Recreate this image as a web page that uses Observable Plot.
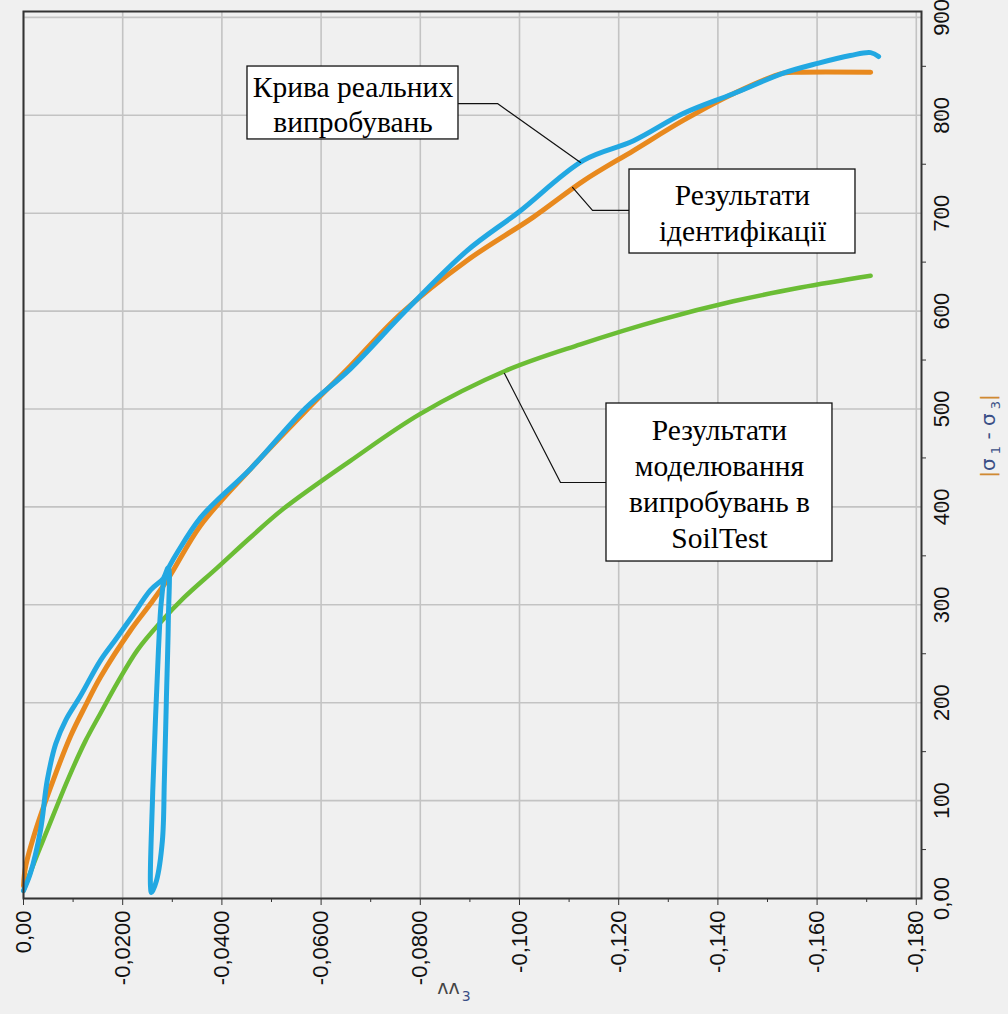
<!DOCTYPE html>
<html><head><meta charset="utf-8">
<script src="https://cdn.jsdelivr.net/npm/d3@7"></script>
<script src="https://cdn.jsdelivr.net/npm/@observablehq/plot@0.6"></script>
<style>
html,body{margin:0;padding:0;background:#f0f0f0;}
#chart{width:1008px;height:1014px;}
</style></head><body><div id="chart"></div>
<script>
// Real test curve (blue)
const realStrain = [0, -0.0014, -0.0034, -0.0048, -0.0065, -0.0085, -0.0115, -0.0155, -0.0185, -0.0216, -0.0256, -0.0282, -0.0292,
  -0.0292, -0.0288, -0.0284, -0.0280, -0.0268, -0.0258, -0.0256, -0.0260, -0.0266, -0.0272, -0.0278, -0.0286,
  -0.0317, -0.0357, -0.0391, -0.0458, -0.0569, -0.0659, -0.0770, -0.0895, -0.0998, -0.1129, -0.1230, -0.1331, -0.1431, -0.1532, -0.1601, -0.1667, -0.1708, -0.1724];
const realStress = [8, 26, 69, 121, 158, 182, 207, 243, 264, 286, 315, 327, 338,
  284, 202, 121, 59, 18, 6, 13, 100, 182, 253, 304, 330,
  359, 389, 407, 439, 501, 541, 600, 662, 701, 754, 774, 802, 822, 843, 853, 861, 864, 860];
// Identification results (orange)
const identStrain = [0, -0.0004, -0.0024, -0.0060, -0.0095, -0.0125, -0.0155, -0.0216, -0.0256, -0.0292, -0.0357, -0.0458, -0.0569, -0.0659, -0.0760, -0.0895, -0.1028, -0.1129, -0.1230, -0.1331, -0.1431, -0.1532, -0.1567, -0.1708];
const identStress = [13, 32, 69, 121, 166, 197, 226, 274, 301, 327, 381, 439, 498, 544, 597, 652, 696, 733, 764, 795, 822, 843, 844, 844];
// SoilTest modelling results (green)
const modelStrain = [0, -0.0024, -0.0048, -0.0089, -0.0125, -0.0155, -0.0190, -0.0230, -0.0276, -0.0323, -0.0391, -0.0458, -0.0524, -0.0659, -0.0800, -0.0972, -0.1123, -0.1284, -0.1431, -0.1567, -0.1708];
const modelStress = [8, 40, 70, 121, 161, 189, 221, 254, 282, 307, 338, 369, 398, 447, 495, 539, 566, 591, 610, 624, 636];

const xTicks = [0, -0.02, -0.04, -0.06, -0.08, -0.10, -0.12, -0.14, -0.16, -0.18];
const xTickLabels = ["0,00", "-0,0200", "-0,0400", "-0,0600", "-0,0800", "-0,100", "-0,120", "-0,140", "-0,160", "-0,180"];
const xMinor = [-0.01, -0.03, -0.05, -0.07, -0.09, -0.11, -0.13, -0.15, -0.17];
const yTicks = [0, 100, 200, 300, 400, 500, 600, 700, 800, 900];
const yTickLabels = ["0,00", "100", "200", "300", "400", "500", "600", "700", "800", "900"];
const yMinor = [50, 150, 250, 350, 450, 550, 650, 750, 850];

// Annotations (data units)
const noteLabels = ["Крива реальних\nвипробувань", "Результати\nідентифікації", "Результати\nмоделювання\nвипробувань в\nSoilTest"];
const noteX1 = [-0.04516, -0.12218, -0.11754];
const noteX2 = [-0.08770, -0.16774, -0.16310];
const noteY1 = [775.3, 658.8, 344.2];
const noteY2 = [849.8, 744.6, 505.6];
const leaderX = [[-0.0877, -0.09556, -0.1123], [-0.12218, -0.11472, -0.11069], [-0.11754, -0.10827, -0.09698]];
const leaderY = [[812.0, 812.0, 751.8], [702.8, 702.8, 726.3], [424.9, 424.9, 536.3]];

const toRows = (xs, ys) => xs.map((x, i) => ({x, y: ys[i]}));
const real = toRows(realStrain, realStress);
const ident = toRows(identStrain, identStress);
const model = toRows(modelStrain, modelStress);
const boxes = noteLabels.map((t, i) => ({t, x1: noteX1[i], x2: noteX2[i], y1: noteY1[i], y2: noteY2[i],
  cx: (noteX1[i] + noteX2[i]) / 2, cy: (noteY1[i] + noteY2[i]) / 2}));
const leaders = leaderX.flatMap((xs, k) => xs.map((x, j) => ({k, x, y: leaderY[k][j]})));

const xLab = new Map(xTicks.map((t, i) => [t, xTickLabels[i]]));
const yLab = new Map(yTicks.map((t, i) => [t, yTickLabels[i]]));

const chart = Plot.plot({
  width: 1008,
  height: 1014,
  marginLeft: 23,
  marginRight: 87,
  marginTop: 11,
  marginBottom: 116,
  style: {background: "#f0f0f0", fontFamily: "'Liberation Sans', Arial, sans-serif", fontSize: "22px", color: "#111"},
  x: {domain: [0, -0.18105]},
  y: {domain: [0, 906]},
  marks: [
    Plot.gridX(xTicks, {stroke: "#c3c3c3", strokeOpacity: 1, strokeWidth: 1.6}),
    Plot.gridY(yTicks, {stroke: "#c3c3c3", strokeOpacity: 1, strokeWidth: 1.6}),
    Plot.line(model, {x: "x", y: "y", stroke: "#6bbd35", strokeWidth: 4.5, curve: "catmull-rom", strokeLinejoin: "round", strokeLinecap: "round"}),
    Plot.line(ident, {x: "x", y: "y", stroke: "#e8891e", strokeWidth: 5, curve: "catmull-rom", strokeLinejoin: "round", strokeLinecap: "round"}),
    Plot.line(real, {x: "x", y: "y", stroke: "#22a8e2", strokeWidth: 5, curve: "catmull-rom", strokeLinejoin: "round", strokeLinecap: "round"}),
    Plot.frame({stroke: "#333", strokeWidth: 2}),
    Plot.axisX(xTicks, {anchor: "bottom", tickSize: 7, tickPadding: 5, tickRotate: -90, tickFormat: d => xLab.get(d), stroke: "#333", fill: "#111", label: null}),
    Plot.axisX(xMinor, {anchor: "bottom", tickSize: 4, tickFormat: () => "", stroke: "#333", label: null}),
    Plot.axisY(yTicks, {anchor: "right", tickSize: 8, tickPadding: 6, dx: 13, tickRotate: -90, tickFormat: d => yLab.get(d), stroke: "#333", fill: "#111", label: null}),
    Plot.axisY(yMinor, {anchor: "right", tickSize: 4, tickFormat: () => "", stroke: "#333", label: null}),
    Plot.line(leaders, {x: "x", y: "y", z: "k", stroke: "#111", strokeWidth: 1.2}),
    Plot.rect(boxes, {x1: "x1", x2: "x2", y1: "y1", y2: "y2", fill: "white", stroke: "#111", strokeWidth: 1.3}),
    Plot.text(boxes, {x: "cx", y: "cy", text: "t", fontFamily: "'Liberation Serif', 'Times New Roman', serif", fontSize: 29.5, lineHeight: 1.22, fill: "#000"})
  ]
});
document.getElementById("chart").appendChild(chart);

// Axis titles
const svg = d3.select(chart);
const xt = svg.append("text").attr("x", 454).attr("y", 994).attr("font-family", "'DejaVu Sans', sans-serif").attr("font-size", 19).attr("fill", "#444");
xt.append("tspan").text("ʌʌ");
xt.append("tspan").attr("dx", 2).attr("dy", 7).attr("font-size", 14).attr("fill", "#3a4f86").text("3");
const yt = svg.append("text").attr("transform", "translate(995,436) rotate(-90)").attr("text-anchor", "middle")
  .attr("font-family", "'DejaVu Sans', sans-serif").attr("font-size", 20).attr("fill", "#3a4f86");
yt.append("tspan").attr("fill", "#d08a33").text("|");
yt.append("tspan").text("σ");
yt.append("tspan").attr("font-size", 13).attr("dy", 5).text(" 1");
yt.append("tspan").attr("dy", -5).text(" - σ");
yt.append("tspan").attr("font-size", 13).attr("dy", 5).text(" 3");
yt.append("tspan").attr("dy", -5).attr("fill", "#d08a33").text("|");
</script>
</body></html>
